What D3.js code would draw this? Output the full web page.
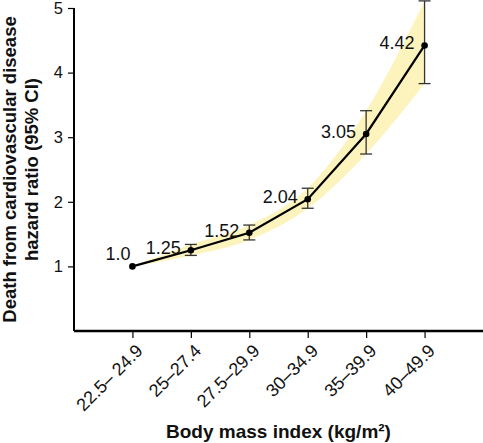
<!DOCTYPE html>
<html><head><meta charset="utf-8">
<script src="https://cdn.jsdelivr.net/npm/d3@7"></script>
<style>
html,body{margin:0;padding:0;background:#fff;}
svg{display:block;font-family:"Liberation Sans",Arial,sans-serif;}
</style></head>
<body><svg id="c" width="483" height="443"></svg>
<script>
const categories = ["22.5\u2013 24.9","25\u201327.4","27.5\u201329.9","30\u201334.9","35\u201339.9","40\u201349.9"];
const hazardRatio = [1.0, 1.25, 1.52, 2.04, 3.05, 4.42];
const ciLower = [1.0, 1.17, 1.41, 1.90, 2.74, 3.83];
const ciUpper = [1.0, 1.34, 1.64, 2.21, 3.41, 5.11];
const labels = ["1.0","1.25","1.52","2.04","3.05","4.42"];
const yTicks = [1,2,3,4,5];

const svg = d3.select("#c");
const mLeft = 74, mRight = 483, mTop = 8, mBottom = 331;
const x = d3.scalePoint().domain(categories).range([mLeft, mRight]).padding(1);
const y = d3.scaleLinear().domain([0,5]).range([mBottom, mTop]);

const data = categories.map((c,i)=>({c, v:hazardRatio[i], lo:ciLower[i], hi:ciUpper[i], lab:labels[i], i}));

// band
const area = d3.area().x(d=>x(d.c)).y0(d=>y(d.lo)).y1(d=>y(d.hi)).curve(d3.curveMonotoneX);
svg.append("path").datum(data).attr("d", area).attr("fill","#fdf3bd").attr("stroke","none");

// axes
const yAxis = d3.axisLeft(y).tickValues(yTicks).tickFormat(d3.format("d")).tickSize(6).tickPadding(5);
const gy = svg.append("g").attr("transform",`translate(${mLeft},0)`).call(yAxis);
gy.select(".domain").attr("d", `M0,${mTop}V${mBottom}`).attr("stroke","#000").attr("stroke-width",2);
gy.selectAll(".tick line").attr("stroke","#000").attr("stroke-width",1.2);
gy.selectAll(".tick text").attr("font-size",16.5).attr("fill","#111").attr("font-family","Liberation Sans, Arial, sans-serif");

const xAxis = d3.axisBottom(x).tickSize(7).tickPadding(3);
const gx = svg.append("g").attr("transform",`translate(0,${mBottom})`).call(xAxis);
gx.select(".domain").attr("d", `M${mLeft},0H${mRight}`).attr("stroke","#000").attr("stroke-width",2.5);
gx.selectAll(".tick line").attr("stroke","#000").attr("stroke-width",1.2);
gx.selectAll(".tick text").attr("font-size",18).attr("fill","#111")
  .attr("font-family","Liberation Sans, Arial, sans-serif")
  .attr("text-anchor","end").attr("dy","0").attr("y",0)
  .attr("transform","translate(11,21) rotate(-45)");

// error bars
const eb = svg.append("g").attr("stroke","#333").attr("stroke-width",1.3);
data.filter(d=>d.hi>d.lo).forEach(d=>{
  const cx = x(d.c);
  eb.append("line").attr("x1",cx).attr("x2",cx).attr("y1",y(d.hi)).attr("y2",y(d.lo));
  eb.append("line").attr("x1",cx-6).attr("x2",cx+6).attr("y1",y(d.hi)).attr("y2",y(d.hi));
  eb.append("line").attr("x1",cx-6).attr("x2",cx+6).attr("y1",y(d.lo)).attr("y2",y(d.lo));
});

// line
const line = d3.line().x(d=>x(d.c)).y(d=>y(d.v));
svg.append("path").datum(data).attr("d", line).attr("fill","none").attr("stroke","#000").attr("stroke-width",2.2);
svg.append("g").selectAll("circle").data(data).join("circle")
  .attr("cx",d=>x(d.c)).attr("cy",d=>y(d.v)).attr("r",3.3).attr("fill","#000");

// value labels
svg.append("g").selectAll("text").data(data).join("text")
  .attr("x",d=>x(d.c) + (d.i===0 ? -2 : -10))
  .attr("y",d=>y(d.v) + (d.i===0 ? -6 : 4))
  .attr("text-anchor","end").attr("font-size",18).attr("fill","#111")
  .text(d=>d.lab);

// axis titles
svg.append("text").attr("x",(mLeft+mRight)/2).attr("y",438).attr("text-anchor","middle")
  .attr("font-weight","bold").attr("font-size",19).attr("fill","#111")
  .text("Body mass index (kg/m\u00b2)");
const yt = svg.append("text").attr("transform",`translate(0,${(mTop+mBottom)/2}) rotate(-90)`)
  .attr("text-anchor","middle").attr("font-weight","bold").attr("font-size",18.5).attr("fill","#111");
yt.append("tspan").attr("x",0).attr("y",16).text("Death from cardiovascular disease");
yt.append("tspan").attr("x",0).attr("y",38).text("hazard ratio (95% CI)");
</script></body></html>
